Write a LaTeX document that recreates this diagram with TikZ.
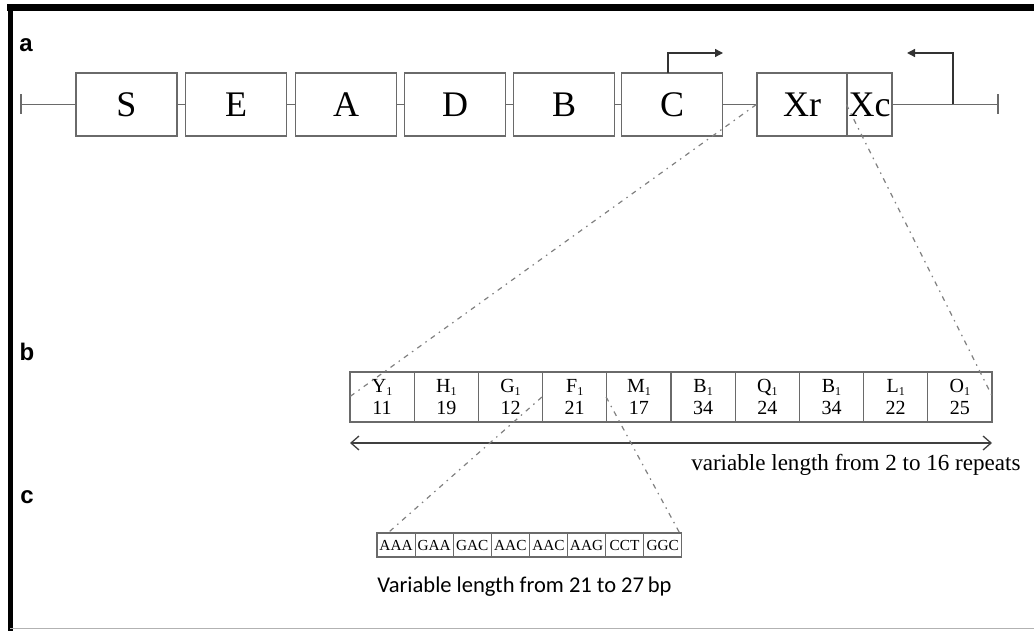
\documentclass[tikz,border=0pt]{standalone}
\usepackage{fontspec}
\setmainfont{Liberation Serif}
\newfontfamily\labfont{Liberation Sans}
\newfontfamily\calfont{Carlito}
\usetikzlibrary{arrows.meta,calc}
\newdimen\px \px=0.75pt
\definecolor{lgray}{HTML}{6A6A6A}
\newcommand{\sbs}[1]{\raisebox{-0.15em}{\fontsize{9}{9}\selectfont #1}}
\tikzset{
  genebox/.style={draw=lgray, line width=1.3\px, minimum width=101\px, minimum height=63\px, inner sep=0pt, font=\fontsize{27}{30}\selectfont},
  repbox/.style={draw=lgray, line width=1.3\px, minimum width=64.2\px, minimum height=50\px, inner sep=0pt, align=center, font=\fontsize{15}{16.5}\selectfont},
  codbox/.style={draw=lgray, line width=1.1\px, minimum width=38.1\px, minimum height=24\px, inner sep=0pt, font=\fontsize{11.5}{12}\selectfont},
  bb/.style={draw=lgray, line width=1.3\px},
  dd/.style={draw=gray, line width=1.2\px, dash pattern=on 5\px off 5\px on 1.5\px off 5\px},
  panel/.style={font=\labfont\bfseries\fontsize{18}{20}\selectfont},
}
\begin{document}
\begin{tikzpicture}[x=1\px, y=-1\px]
\useasboundingbox (0,0) rectangle (1034,631);
% frame
\draw[line width=7\px] (7,8) -- (1034,8);
\draw[line width=5\px] (10.5,5) -- (10.5,631);
\draw[gray!60, line width=1.5\px] (10,628.5) -- (1034,628.5);
% panel labels
\node[panel] (la) at (26,45) {a};
\node[panel] (lb) at (27,352) {b};
\node[panel] (lc) at (27,497) {c};
% gene boxes
\node[genebox] (S) at (126.5,104.5) {S};
\node[genebox] (E) at (236,104.5) {E};
\node[genebox] (A) at (346,104.5) {A};
\node[genebox] (D) at (455,104.5) {D};
\node[genebox] (B) at (564,104.5) {B};
\node[genebox] (C) at (672,104.5) {C};
\node[genebox, minimum width=90\px] (Xr) at (802,104.5) {Xr};
\node[genebox, minimum width=45\px, inner sep=0pt] (Xc) at (869.5,104.5) {Xc};
\coordinate (L0) at (21,104.5);
\coordinate (R0) at (998,104.5);
\draw[bb] (L0) -- (S.west);
\draw[bb] (S.east) -- (E.west);
\draw[bb] (E.east) -- (A.west);
\draw[bb] (A.east) -- (D.west);
\draw[bb] (D.east) -- (B.west);
\draw[bb] (B.east) -- (C.west);
\draw[bb] (C.east) -- (Xr.west);
\draw[bb] (Xc.east) -- (R0);
\draw[bb] ($(L0)+(0,-10)$) -- ($(L0)+(0,10)$);
\draw[bb] ($(R0)+(0,-10)$) -- ($(R0)+(0,10)$);
% promoter arrows
\coordinate (P1) at (668,73);
\coordinate (P1e) at (723,53);
\draw[bb, -{Triangle[length=6pt,width=6pt]}, draw=black!80] (P1) |- (P1e);
\coordinate (P2) at (953,104.5);
\coordinate (P2e) at (907,53);
\draw[bb, -{Triangle[length=6pt,width=6pt]}, draw=black!80] (P2) |- (P2e);
% repeat boxes
\node[repbox] (b1) at (382.1,397) {Y\sbs{1}\\11};
\node[repbox] (b2) at (446.3,397) {H\sbs{1}\\19};
\node[repbox] (b3) at (510.5,397) {G\sbs{1}\\12};
\node[repbox] (b4) at (574.7,397) {F\sbs{1}\\21};
\node[repbox] (b5) at (638.9,397) {M\sbs{1}\\17};
\node[repbox] (b6) at (703.1,397) {B\sbs{1}\\34};
\node[repbox] (b7) at (767.3,397) {Q\sbs{1}\\24};
\node[repbox] (b8) at (831.5,397) {B\sbs{1}\\34};
\node[repbox] (b9) at (895.7,397) {L\sbs{1}\\22};
\node[repbox] (b10) at (959.9,397) {O\sbs{1}\\25};
\coordinate (dl) at (350,443);
\coordinate (dr) at (992,443);
\draw[bb, draw=black!75, {Straight Barb[length=6pt,width=10.5pt]}-{Straight Barb[length=6pt,width=10.5pt]}] (dl) -- (dr);
\node[anchor=west, inner sep=0pt, font=\fontsize{17.3}{19}\selectfont] (vt) at (691,465) {variable length from 2 to 16 repeats};
% codon boxes
\node[codbox] (c1) at (396.05,545) {AAA};
\node[codbox] (c2) at (434.15,545) {GAA};
\node[codbox] (c3) at (472.25,545) {GAC};
\node[codbox] (c4) at (510.35,545) {AAC};
\node[codbox] (c5) at (548.45,545) {AAC};
\node[codbox] (c6) at (586.55,545) {AAG};
\node[codbox] (c7) at (624.65,545) {CCT};
\node[codbox] (c8) at (662.75,545) {GGC};
\node[anchor=west, inner sep=0pt, font=\calfont\fontsize{16.9}{19}\selectfont] (ct) at (377,587) {Variable length from 21 to 27\,bp};
% zoom lines
\draw[dd] (Xr.west) -- (b1.west);
\draw[dd] (Xc.west) -- (b10.east);
\draw[dd] (b4.west) -- ($(c1.north west)+(12,0)$);
\draw[dd] (b5.west) -- ($(c8.north east)+(-3,0)$);
\end{tikzpicture}
\end{document}
